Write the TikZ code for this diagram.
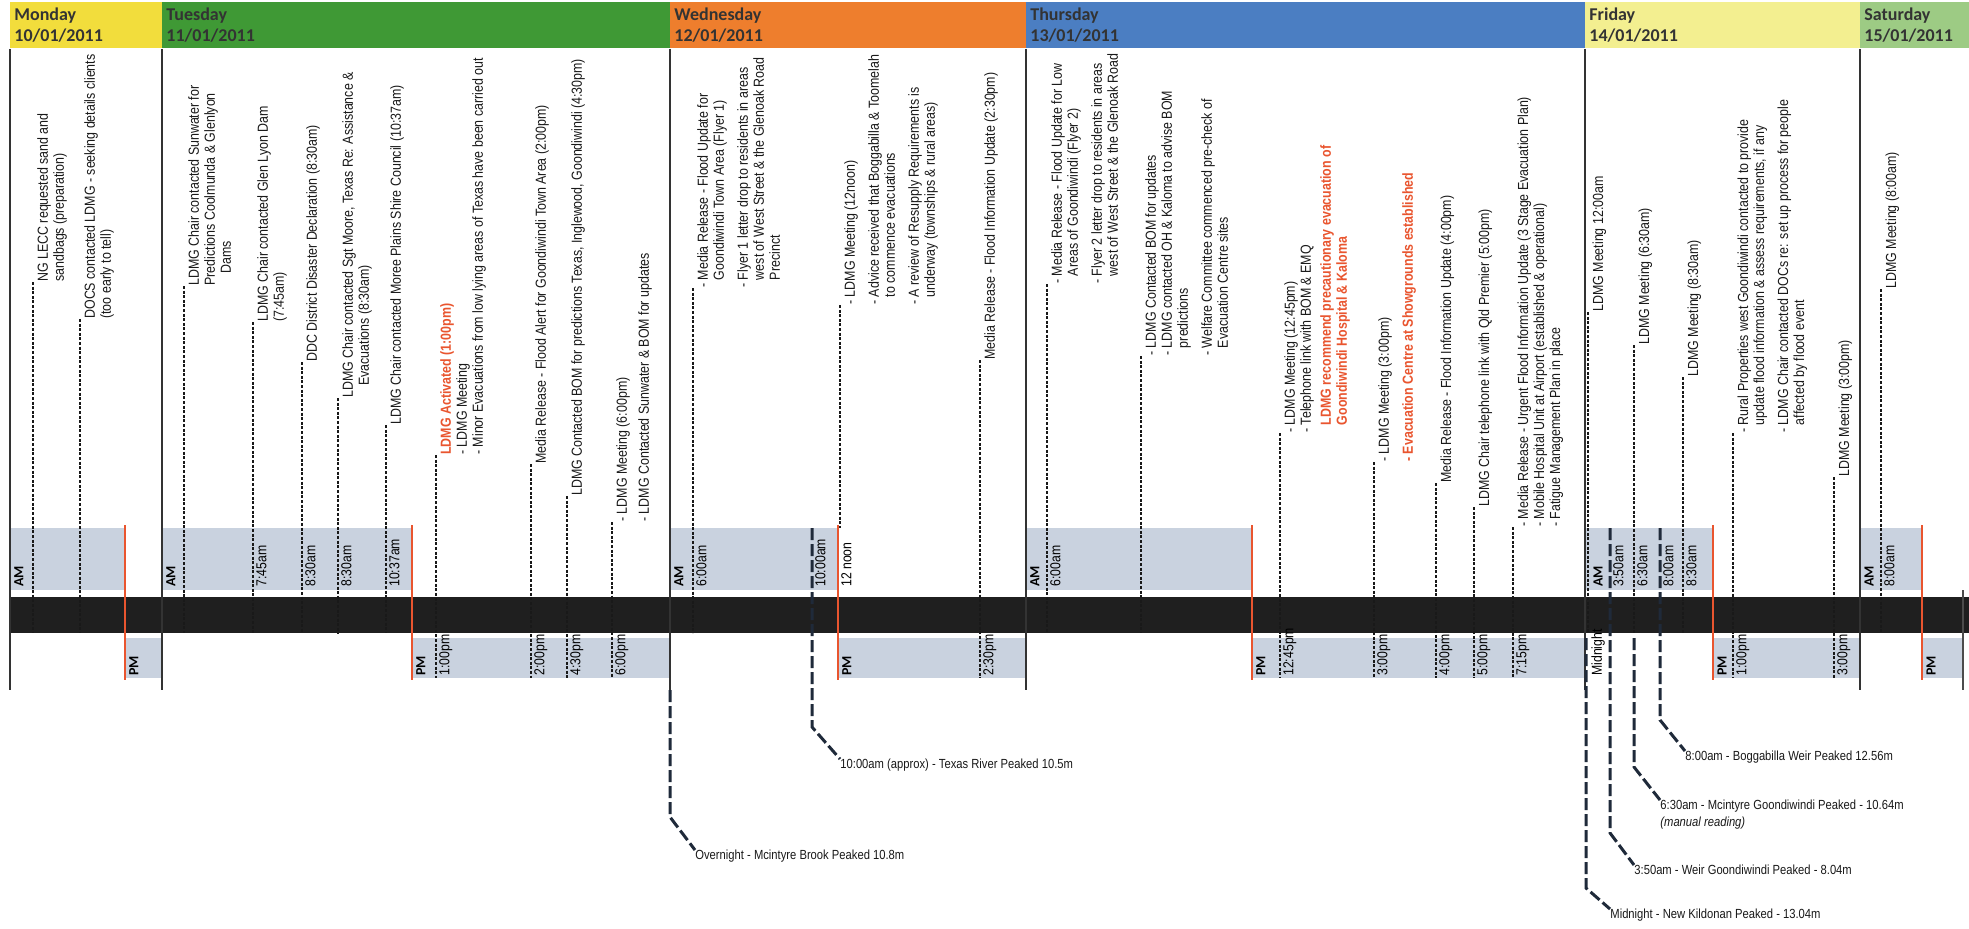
\documentclass[tikz,border=0pt]{standalone}
\usepackage{fontspec}
\setmainfont{Liberation Sans}
\newfontfamily\narrowfont{Liberation Sans}[FakeStretch=0.85]
\newfontfamily\headfont{Carlito}
\usepackage{xcolor}
\usepackage{tikz}
\usetikzlibrary{calc}

\definecolor{monyellow}{HTML}{F2DD3C}
\definecolor{tuegreen}{HTML}{3F9935}
\definecolor{wedorange}{HTML}{EE7E2D}
\definecolor{thublue}{HTML}{4B7EC2}
\definecolor{friyellow}{HTML}{F3EF90}
\definecolor{satgreen}{HTML}{9DCB84}
\definecolor{shadeblue}{HTML}{C9D2DF}
\definecolor{alert}{HTML}{E9552F}
\definecolor{navy}{HTML}{1F2A3A}

\newcommand\ind{\hphantom{- }}
\newcommand\logevent[5]{%
  \coordinate (#1) at (#2,#3);
  \node[evt] (#1txt) at ($(#1)+(4,0)$) {#5};
  \draw[tick] (#1) -- (#1 |- #4);
}

\tikzset{
  dayhead/.style 2 args={anchor=north west, fill=#1, text width=#2, align=left,
    minimum height=23pt, inner xsep=2pt, inner ysep=1pt, text=black!80,
    font=\headfont\bfseries\fontsize{9}{10.5}\selectfont},
  dayline/.style={line width=1.3pt, draw=black!80},
  tick/.style={line width=0.55pt, dash pattern=on 1.5pt off 0.8pt, draw=black!90},
  noon/.style={line width=1pt, draw=alert},
  peak/.style={line width=1.5pt, dash pattern=on 6pt off 2pt, draw=navy},
  evt/.style={rotate=90, anchor=north west, align=left, inner sep=0pt, text=black!90,
    font=\narrowfont\fontsize{7.3}{8}\selectfont},
  stamp/.style={rotate=90, anchor=north west, inner sep=0pt,
    font=\narrowfont\fontsize{7.2}{7.5}\selectfont},
  half/.style={rotate=90, anchor=north west, inner sep=0pt,
    font=\headfont\bfseries\fontsize{7}{7.5}\selectfont},
  peaklabel/.style={anchor=north west, align=left, inner sep=0pt, text=black!90,
    font=\narrowfont\fontsize{6.6}{8.5}\selectfont}
}

\begin{document}
\begin{tikzpicture}[x=0.5pt, y=-0.5pt]
\useasboundingbox (0,0) rectangle (1969,928);
\fill[white] (0,0) rectangle (1969,928);

\node[dayhead={monyellow}{72pt}] (mon) at (10,2) {Monday\\10/01/2011};
\node[dayhead={tuegreen}{250pt}] (tue) at (162,2) {Tuesday\\11/01/2011};
\node[dayhead={wedorange}{174pt}] (wed) at (670,2) {Wednesday\\12/01/2011};
\node[dayhead={thublue}{275.5pt}] (thu) at (1026,2) {Thursday\\13/01/2011};
\node[dayhead={friyellow}{133.5pt}] (fri) at (1585,2) {Friday\\14/01/2011};
\node[dayhead={satgreen}{50.5pt}] (sat) at (1860,2) {Saturday\\15/01/2011};

\coordinate (amtop) at (0,528);
\coordinate (amend) at (0,633);
\coordinate (pmend) at (0,678);
\coordinate (daybot) at (0,690);

\foreach \a/\r/\b in {10/125/162, 162/412/670, 670/838/1026, 1026/1252/1585, 1585/1713/1860, 1860/1922/1962} {
  \fill[shadeblue] (\a,528) rectangle (\r,590);
  \fill[shadeblue] (\r,638) rectangle (\b,678);
}
\fill[black!88] (10,597) rectangle (1969,633);

\foreach \d in {mon,tue,wed,thu,fri,sat}
  \draw[dayline] (\d.south west) -- (\d.south west |- daybot);
\draw[line width=0.8pt, draw=black!70] (1963,590) -- (1963,690);

\logevent{e1}{33}{282}{amend}{NG LECC requested sand and\\sandbags (preparation)}
\logevent{e2}{80}{319}{amend}{DOCS contacted LDMG - seeking details clients\\(too early to tell)}
\logevent{e3}{184}{286}{amend}{LDMG Chair contacted Sunwater for\\Predictions Coolmunda \& Glenlyon\\\hspace*{6pt}Dams}
\logevent{e4}{253}{322}{amend}{LDMG Chair contacted Glen Lyon Dam\\(7:45am)}
\logevent{e5}{302}{362}{amend}{DDC District Disaster Declaration (8:30am)}
\logevent{e6}{338}{398}{amend}{LDMG Chair contacted Sgt Moore, Texas Re: Assistance \&\\\hspace*{6pt}Evacuations (8:30am)}
\logevent{e7}{386}{425}{amend}{LDMG Chair contacted Moree Plains Shire Council (10:37am)}
\logevent{e8}{436}{455}{pmend}{{\color{alert}\bfseries LDMG Activated (1:00pm)}\\- LDMG Meeting\\- Minor Evacuations from low lying areas of Texas have been carried out}
\logevent{e9}{531}{464}{pmend}{Media Release - Flood Alert for Goondiwindi Town Area (2:00pm)}
\logevent{e10}{567}{496}{pmend}{LDMG Contacted BOM for predictions Texas, Inglewood, Goondiwindi (4:30pm)}
\logevent{e11}{612}{522}{pmend}{- LDMG Meeting (6:00pm)\\[3pt]- LDMG Contacted Sunwater \& BOM for updates}

\logevent{e12}{693}{288}{amend}{- Media Release - Flood Update for\\\ind Goondiwindi Town Area (Flyer 1)\\[4pt]- Flyer 1 letter drop to residents in areas\\\ind west of West Street \& the Glenoak Road\\\ind Precinct}
\logevent{e13}{840}{305}{amtop}{- LDMG Meeting (12noon)\\[4pt]- Advice received that Boggabilla \& Toomelah\\\ind to commence evacuations\\[4pt]- A review of Resupply Requirements is\\\ind underway (townships \& rural areas)}
\logevent{e14}{980}{360}{pmend}{Media Release - Flood Information Update (2:30pm)}

\logevent{e15}{1047}{284}{amend}{- Media Release - Flood Update for Low\\\ind Areas of Goondiwindi (Flyer 2)\\[4pt]- Flyer 2 letter drop to residents in areas\\\ind west of West Street \& the Glenoak Road}
\logevent{e16}{1141}{356}{amend}{- LDMG Contacted BOM for updates\\- LDMG contacted OH \& Kaloma to advise BOM\\\ind predictions\\[4pt]- Welfare Committee commenced pre-check of\\\ind Evacuation Centre sites}
\logevent{e17}{1280}{433}{pmend}{- LDMG Meeting (12:45pm)\\- Telephone link with BOM \& EMQ\\[2pt]{\color{alert}\bfseries\ind LDMG recommend precautionary evacuation of}\\{\color{alert}\bfseries\ind Goondiwindi Hospital \& Kaloma}}
\logevent{e18}{1374}{462}{pmend}{- LDMG Meeting (3:00pm)\\[4pt]{\color{alert}\bfseries - Evacuation Centre at Showgrounds established}}
\logevent{e19}{1436}{483}{pmend}{Media Release - Flood Information Update (4:00pm)}
\logevent{e20}{1474}{507}{pmend}{LDMG Chair telephone link with Qld Premier (5:00pm)}
\logevent{e21}{1513}{527}{pmend}{- Media Release - Urgent Flood Information Update (3 Stage Evacuation Plan)\\- Mobile Hospital Unit at Airport (established \& operational)\\- Fatigue Management Plan in place}

\logevent{e22}{1588}{312}{amend}{LDMG Meeting 12:00am}
\logevent{e23}{1634}{345}{amend}{LDMG Meeting (6:30am)}
\logevent{e24}{1683}{377}{amend}{LDMG Meeting (8:30am)}
\logevent{e25}{1733}{433}{pmend}{- Rural Properties west Goondiwindi contacted to provide\\\ind update flood information \& assess requirements, if any\\[4pt]- LDMG Chair contacted DOCs re: set up process for people\\\ind affected by flood event}
\logevent{e26}{1834}{477}{pmend}{LDMG Meeting (3:00pm)}
\logevent{e27}{1881}{289}{amend}{LDMG Meeting (8:00am)}

\foreach \r in {125,412,838,1252,1713,1922}
  \draw[noon] (\r,525) -- (\r,680);

\foreach \x/\t [count=\i] in {253/7:45am, 302/8:30am, 338/8:30am, 386/10:37am, 693/6:00am, 812/10:00am, 838/12 noon, 1047/6:00am, 1610/3:50am, 1634/6:30am, 1660/8:00am, 1683/8:30am, 1881/8:00am}
  \node[stamp] (am\i) at (\x+3,587) {\t};
\foreach \x/\t [count=\i] in {436/1:00pm, 531/2:00pm, 567/4:30pm, 612/6:00pm, 980/2:30pm, 1280/12:45pm, 1374/3:00pm, 1436/4:00pm, 1474/5:00pm, 1513/7:15pm, 1588/Midnight, 1733/1:00pm, 1834/3:00pm}
  \node[stamp] (pm\i) at (\x+3,676) {\t};

\foreach \x [count=\i] in {14,166,674,1030,1593,1864}
  \node[half] (amlabel\i) at (\x,587) {AM};
\foreach \x [count=\i] in {129,416,842,1256,1717,1926}
  \node[half] (pmlabel\i) at (\x,676) {PM};

% river peaks
\node[peaklabel] (brook) at (695,850) {Overnight - Mcintyre Brook Peaked 10.8m};
\node[peaklabel] (texas) at (840,759) {10:00am (approx) - Texas River Peaked 10.5m};
\node[peaklabel] (bogga) at (1685,751) {8:00am - Boggabilla Weir Peaked 12.56m};
\node[peaklabel] (mcint) at (1660,800) {6:30am - Mcintyre Goondiwindi Peaked - 10.64m\\\textit{(manual reading)}};
\node[peaklabel] (weir) at (1634,865) {3:50am - Weir Goondiwindi Peaked - 8.04m};
\node[peaklabel] (kild) at (1610,909) {Midnight - New Kildonan Peaked - 13.04m};

\coordinate (p1) at (670,690);  \coordinate (k1) at (670,817);
\coordinate (p2) at (812,528);  \coordinate (k2) at (812,727);
\coordinate (p3) at (1660,528); \coordinate (k3) at (1660,720);
\coordinate (p4) at (1634,638); \coordinate (k4) at (1634,767);
\coordinate (p5) at (1610,528); \coordinate (k5) at (1610,833);
\coordinate (p6) at (1586,638); \coordinate (k6) at (1586,888);
\draw[peak] (p1) -- (k1) -- (brook.north west);
\draw[peak] (p2) -- (k2) -- (texas.north west);
\draw[peak] (p3) -- (k3) -- (bogga.north west);
\draw[peak] (p4) -- (k4) -- (mcint.north west);
\draw[peak] (p5) -- (k5) -- (weir.north west);
\draw[peak] (p6) -- (k6) -- (kild.north west);
\end{tikzpicture}
\end{document}
